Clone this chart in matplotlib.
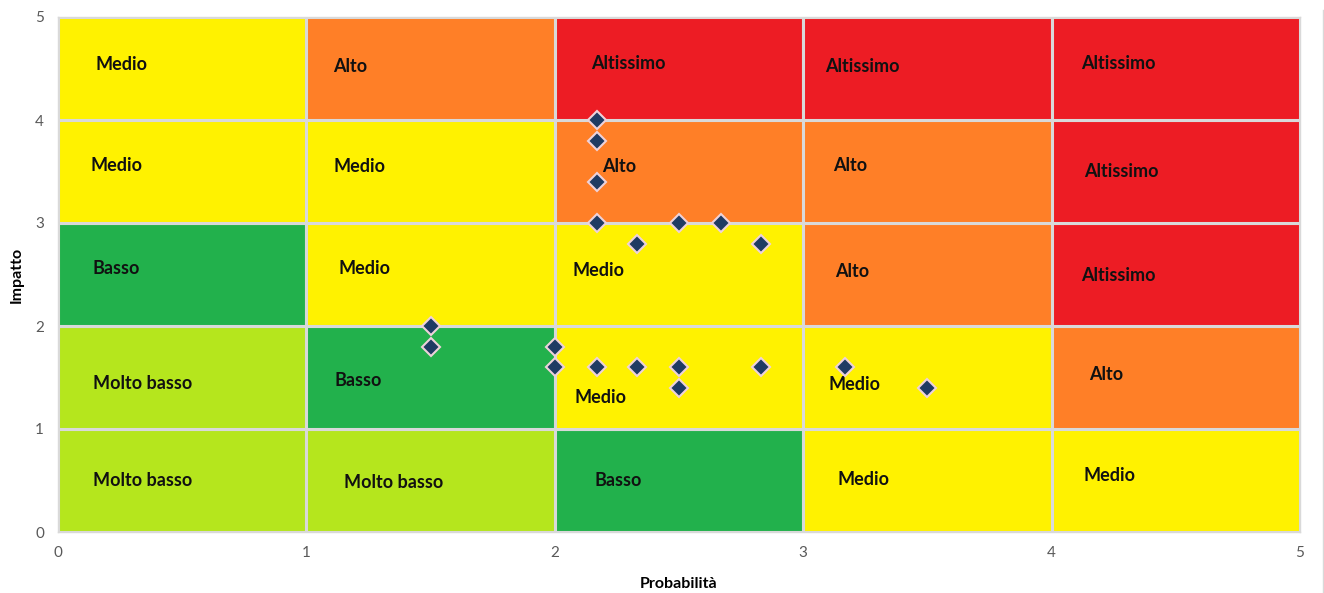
import matplotlib
matplotlib.use("Agg")
import matplotlib.pyplot as plt
from matplotlib.lines import Line2D

# Risk level of each cell, rows from impact 0-1 (bottom) to 4-5 (top)
levels = [
    ["Molto basso", "Molto basso", "Basso", "Medio", "Medio"],
    ["Molto basso", "Basso", "Medio", "Medio", "Alto"],
    ["Basso", "Medio", "Medio", "Alto", "Altissimo"],
    ["Medio", "Medio", "Alto", "Alto", "Altissimo"],
    ["Medio", "Alto", "Altissimo", "Altissimo", "Altissimo"],
]
level_colors = {
    "Molto basso": "#B5E61D",
    "Basso": "#22B14C",
    "Medio": "#FFF200",
    "Alto": "#FF7F27",
    "Altissimo": "#ED1C24",
}
# Label anchor inside each cell (offset from cell's lower-left corner)
label_dx = [
    [0.14, 0.15, 0.16, 0.14, 0.13],
    [0.14, 0.115, 0.08, 0.10, 0.15],
    [0.137, 0.13, 0.07, 0.13, 0.12],
    [0.13, 0.11, 0.19, 0.12, 0.13],
    [0.15, 0.107, 0.146, 0.09, 0.12],
]
label_dy = [
    [0.50, 0.48, 0.50, 0.51, 0.55],
    [0.44, 0.47, 0.31, 0.43, 0.53],
    [0.56, 0.56, 0.54, 0.53, 0.49],
    [0.56, 0.55, 0.55, 0.56, 0.50],
    [0.54, 0.52, 0.55, 0.52, 0.55],
]

# Assessed risks
probabilita = [2.17, 2.17, 2.17, 2.17, 2.33, 2.5, 2.67, 2.83,
               1.5, 1.5, 2.0, 2.0, 2.17, 2.33, 2.5, 2.5, 2.83, 3.17, 3.5]
impatto = [4.0, 3.8, 3.4, 3.0, 2.8, 3.0, 3.0, 2.8,
           2.0, 1.8, 1.8, 1.6, 1.6, 1.6, 1.6, 1.4, 1.6, 1.6, 1.4]

x_ticks = [0, 1, 2, 3, 4, 5]
y_ticks = [0, 1, 2, 3, 4, 5]

fig = plt.figure(figsize=(13.24, 5.93), dpi=100)
ax = fig.add_axes([58 / 1324, 61 / 593, 1242 / 1324, 515 / 593])

for r, row in enumerate(levels):
    for c, lvl in enumerate(row):
        ax.bar(c, 1, width=1, bottom=r, align="edge",
               color=level_colors[lvl], edgecolor="#D9D9D9", linewidth=2.2,
               zorder=1)
        ax.text(c + label_dx[r][c], r + label_dy[r][c], lvl,
                ha="left", va="center", fontsize=13, fontweight="bold",
                family="Lato", color="#111111", zorder=2)

ax.plot(probabilita, impatto, linestyle="none", marker="D", markersize=9,
        markerfacecolor="#1F3B63", markeredgecolor="#EED2DA",
        markeredgewidth=1.5, zorder=3, clip_on=False)

ax.set_xlim(0, 5)
ax.set_ylim(0, 5)
ax.set_xticks(x_ticks)
ax.set_yticks(y_ticks)
ax.tick_params(length=0, labelsize=11, labelcolor="#595959", pad=10)
for lab in ax.get_xticklabels() + ax.get_yticklabels():
    lab.set_family("Lato")
for s in ax.spines.values():
    s.set_color("#D9D9D9")
    s.set_linewidth(1.0)

ax.set_xlabel("Probabilità", fontsize=11.5, fontweight="bold", family="Lato",
              labelpad=12)
ax.set_ylabel("Impatto", fontsize=11.5, fontweight="bold", family="Lato",
              labelpad=8)

fig.add_artist(Line2D([1323 / 1324, 1323 / 1324], [0, 583 / 593],
                      transform=fig.transFigure, color="#D9D9D9", lw=1))

fig.savefig("out.png", dpi=100)
